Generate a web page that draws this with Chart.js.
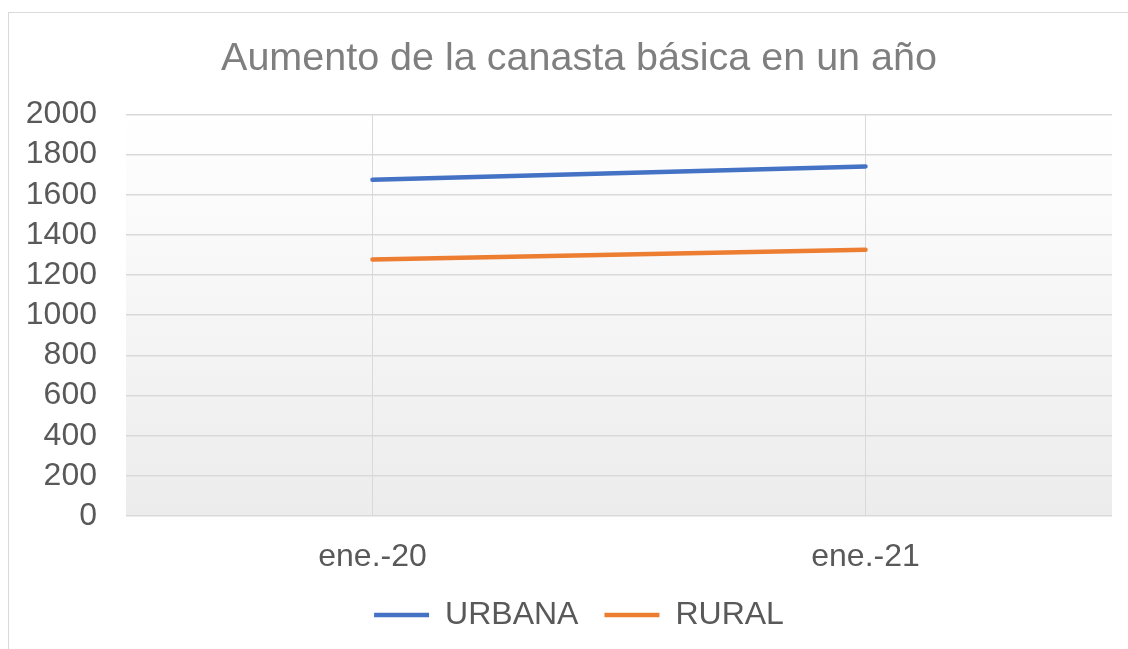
<!DOCTYPE html>
<html>
<head>
<meta charset="utf-8">
<script src="https://cdn.jsdelivr.net/npm/chart.js@4"></script>
<style>
    html, body { margin: 0; padding: 0; background: #fff; overflow: hidden; }
    #frame {
        position: absolute; left: 8px; top: 12px;
        width: 1140px; height: 660px;
        border: 1px solid #d9d9d9; background: #fff;
    }
    #wrap { position: absolute; left: 0; top: 0; width: 1140px; height: 628px; }
</style>
</head>
<body>
<div id="frame"><div id="wrap"><canvas id="chart"></canvas></div></div>
<script>
// Canasta básica — urbana vs rural
const categorias = ['ene.-20', 'ene.-21'];
const urbana     = [1675, 1741];
const rural      = [1278, 1326];
const yTicks     = [0, 200, 400, 600, 800, 1000, 1200, 1400, 1600, 1800, 2000];

const txt   = '#595959';
const grid  = '#d9d9d9';
const fam   = '"Liberation Sans", Arial, sans-serif';

// fondo degradado del área de trazado
const plotBg = {
    id: 'plotBg',
    beforeDraw(chart) {
        const { ctx, chartArea: a } = chart;
        const g = ctx.createLinearGradient(0, a.top, 0, a.bottom);
        g.addColorStop(0, '#ffffff');
        g.addColorStop(1, '#ececec');
        ctx.save();
        ctx.fillStyle = g;
        ctx.fillRect(a.left, a.top, a.right - a.left, a.bottom - a.top);
        ctx.restore();
    }
};

new Chart(document.getElementById('chart'), {
    type: 'line',
    data: {
        labels: categorias,
        datasets: [
            { label: 'URBANA', data: urbana, borderColor: '#4472c4', backgroundColor: '#4472c4',
              borderWidth: 4.5, pointRadius: 0, borderCapStyle: 'round', yAxisID: 'y' },
            { label: 'RURAL', data: rural, borderColor: '#ed7d31', backgroundColor: '#ed7d31',
              borderWidth: 4.5, pointRadius: 0, borderCapStyle: 'round', yAxisID: 'y' }
        ]
    },
    options: {
        responsive: true, maintainAspectRatio: false, animation: false,
        layout: { padding: { left: 0, right: 0, top: 14, bottom: 0 } },
        plugins: {
            title: {
                display: true, text: 'Aumento de la canasta básica en un año',
                color: '#7f7f7f', font: { family: fam, size: 39.5, weight: 'normal' },
                padding: { top: 8, bottom: 32 }
            },
            legend: {
                position: 'bottom',
                labels: {
                    color: txt, font: { family: fam, size: 32 },
                    usePointStyle: true, pointStyle: 'line', pointStyleWidth: 55,
                    padding: 26
                }
            },
            tooltip: { enabled: false }
        },
        scales: {
            x: {
                offset: true,
                grid: { offset: false, color: grid, lineWidth: 1, drawTicks: false },
                border: { display: false },
                ticks: { color: txt, font: { family: fam, size: 32 }, padding: 22 },
                afterFit: s => { s.height = 57; }
            },
            y: {
                min: 0, max: 2000,
                afterBuildTicks: s => { s.ticks = yTicks.map(v => ({ value: v })); },
                grid: { color: grid, lineWidth: 1.5, drawTicks: false },
                border: { display: false },
                ticks: { color: txt, font: { family: fam, size: 32 }, padding: 29,
                         autoSkip: false, callback: v => String(v) },
                afterFit: s => { s.width = 117; }
            },
            yDer: {
                position: 'right', min: 0, max: 2000,
                grid: { display: false }, border: { display: false },
                ticks: { display: false },
                afterFit: s => { s.width = 37; }
            }
        }
    },
    plugins: [plotBg]
});
</script>
</body>
</html>
